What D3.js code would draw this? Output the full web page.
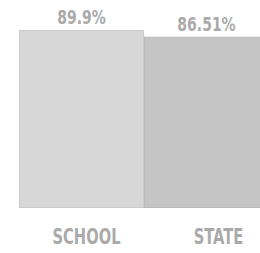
<!DOCTYPE html>
<meta charset="utf-8">
<script src="https://d3js.org/d3.v7.min.js"></script>
<style>
  body { margin: 0; background: #fff; }
  text { font-family: "DejaVu Sans", sans-serif; font-weight: bold; fill: #aaaaaa; }
</style>
<div id="chart"></div>
<script>
// values
var categories = ["SCHOOL", "STATE"];
var values = [89.9, 86.51];
var valueLabels = ["89.9%", "86.51%"];
var fills = ["#d7d7d7", "#c5c5c5"];
var strokes = ["#cbcbcb", "#bababa"];

var width = 260, height = 253;

var svg = d3.select("#chart")
  .append("svg")
    .attr("width", width)
    .attr("height", height);

var x = d3.scaleBand()
  .domain(categories)
  .range([19, 269])
  .padding(0);

var y = d3.scaleLinear()
  .domain([0, 100])
  .range([208, 10]);

// bars
svg.selectAll("rect.bar")
  .data(values)
  .enter()
  .append("rect")
    .attr("class", "bar")
    .attr("x", function(d, i) { return x(categories[i]) + 0.5; })
    .attr("y", function(d) { return y(d) + 0.5; })
    .attr("width", x.bandwidth() - 1)
    .attr("height", function(d) { return y(0) - y(d) - 1; })
    .attr("fill", function(d, i) { return fills[i]; })
    .attr("stroke", function(d, i) { return strokes[i]; })
    .attr("stroke-width", 1);

// value labels above bars (squeezed to look like a condensed face)
svg.selectAll("text.val")
  .data(values)
  .enter()
  .append("text")
    .attr("class", "val")
    .attr("text-anchor", "middle")
    .attr("transform", function(d, i) {
      return "translate(" + (x(categories[i]) + x.bandwidth() / 2) + "," + (y(d) - 6) + ") scale(0.7,1)";
    })
    .style("font-size", "20px")
    .text(function(d, i) { return valueLabels[i]; });

// category labels
var labelOffset = [5, 12];
svg.selectAll("text.cat")
  .data(categories)
  .enter()
  .append("text")
    .attr("class", "cat")
    .attr("text-anchor", "middle")
    .attr("transform", function(d, i) {
      return "translate(" + (x(d) + x.bandwidth() / 2 + labelOffset[i]) + ",244) scale(0.7,1)";
    })
    .style("font-size", "21px")
    .text(function(d) { return d; });
</script>
